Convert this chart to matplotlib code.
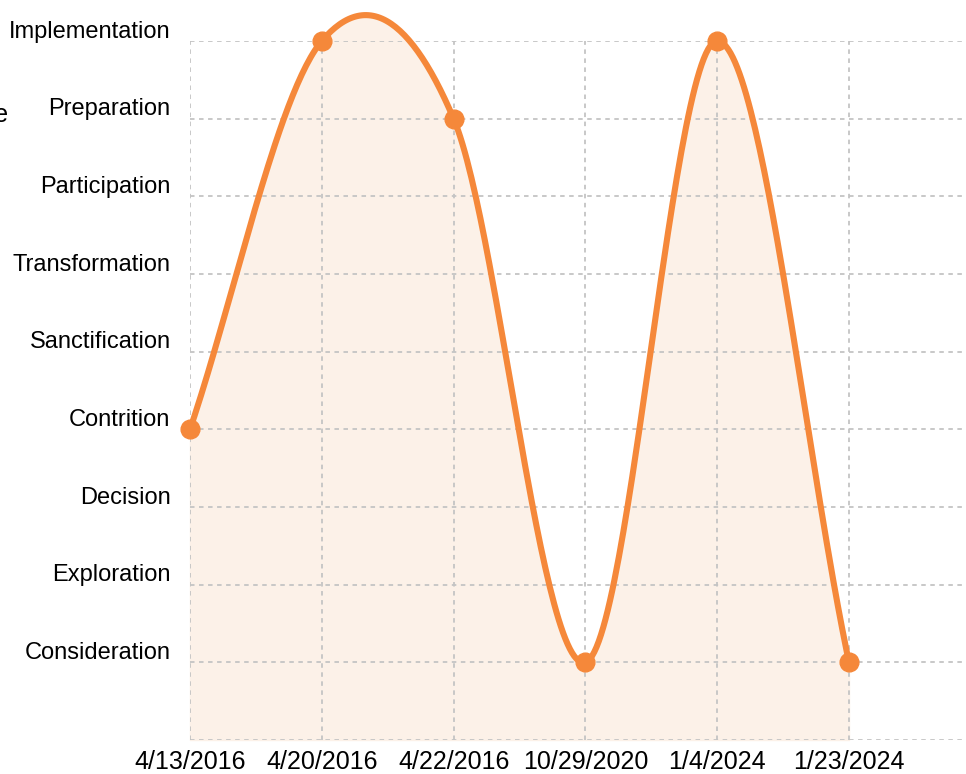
import numpy as np
import matplotlib
matplotlib.use("Agg")
import matplotlib.pyplot as plt
import matplotlib.transforms as mtransforms

plt.rcParams['font.family'] = ['Liberation Sans', 'DejaVu Sans']

# ---- data ----
dates = ["4/13/2016", "4/20/2016", "4/22/2016", "10/29/2020", "1/4/2024", "1/23/2024"]
stages = ["Consideration", "Exploration", "Decision", "Contrition", "Sanctification",
          "Transformation", "Participation", "Preparation", "Implementation"]
values = ["Contrition", "Implementation", "Preparation", "Consideration",
          "Implementation", "Consideration"]

LINE = "#F5883A"
FILL = "#FCF1E8"
GRID = "#C4C4C4"

x = np.arange(len(dates), dtype=float)
y = np.array([stages.index(v) for v in values], dtype=float)

# Catmull-Rom style smoothing (cardinal spline)
def cardinal(xp, yp, n=60):
    m = np.zeros_like(yp)
    m[1:-1] = (yp[2:] - yp[:-2]) / 2.0
    m[0] = yp[1] - yp[0]
    m[-1] = yp[-1] - yp[-2]
    xs, ys = [], []
    for i in range(len(xp) - 1):
        t = np.linspace(0, 1, n)
        h00 = 2*t**3 - 3*t**2 + 1
        h10 = t**3 - 2*t**2 + t
        h01 = -2*t**3 + 3*t**2
        h11 = t**3 - t**2
        ys.append(h00*yp[i] + h10*m[i] + h01*yp[i+1] + h11*m[i+1])
        xs.append(xp[i] + t*(xp[i+1]-xp[i]))
    return np.concatenate(xs), np.concatenate(ys)

xs, ys = cardinal(x, y)

W, H = 966, 774
fig = plt.figure(figsize=(W/100, H/100), dpi=100)
left, right_px = 190, 190 + 6*131.8
bottom, top = 740, 41
ax = fig.add_axes([left/W, 1 - bottom/H, (right_px-left)/W, (bottom-top)/H])
ax.set_xlim(0, 6)
ax.set_ylim(-1, len(stages)-1)

ax.fill_between(xs, ys, -1, color=FILL, zorder=1, clip_on=False)
ax.plot(xs, ys, color=LINE, lw=4.4, zorder=3, clip_on=False, solid_capstyle='round')
ax.plot(x, y, 'o', color=LINE, ms=13.5, zorder=4, clip_on=False)

for s in ax.spines.values():
    s.set_visible(False)

ax.set_xticks(x)
ax.set_xticklabels(dates, fontsize=18)
ax.set_yticks(np.arange(len(stages)))
ax.set_yticklabels(stages, fontsize=17)
ax.tick_params(length=0)
ax.tick_params(axis='x', pad=7)
ax.tick_params(axis='y', pad=14)

# grid
for xi in x:
    ax.plot([xi, xi], [-1, len(stages)-1], ls=(0, (2.5, 2.5)), color=GRID, lw=1.3, zorder=2)
for yi in np.arange(-1, len(stages)):
    ax.plot([0, 6], [yi, yi], ls=(0, (2.5, 2.5)), color=GRID, lw=1.3, zorder=2)

off = mtransforms.ScaledTranslation(0, 12/100, fig.dpi_scale_trans)
for lab in ax.get_yticklabels():
    lab.set_transform(lab.get_transform() + off)

# clipped axis title remnant (cut off at the left edge, as in the reference)
fig.text(9/W, 1 - 115/H, "Stage", fontsize=18, ha='right', va='center')

fig.savefig("out.png", dpi=100)
